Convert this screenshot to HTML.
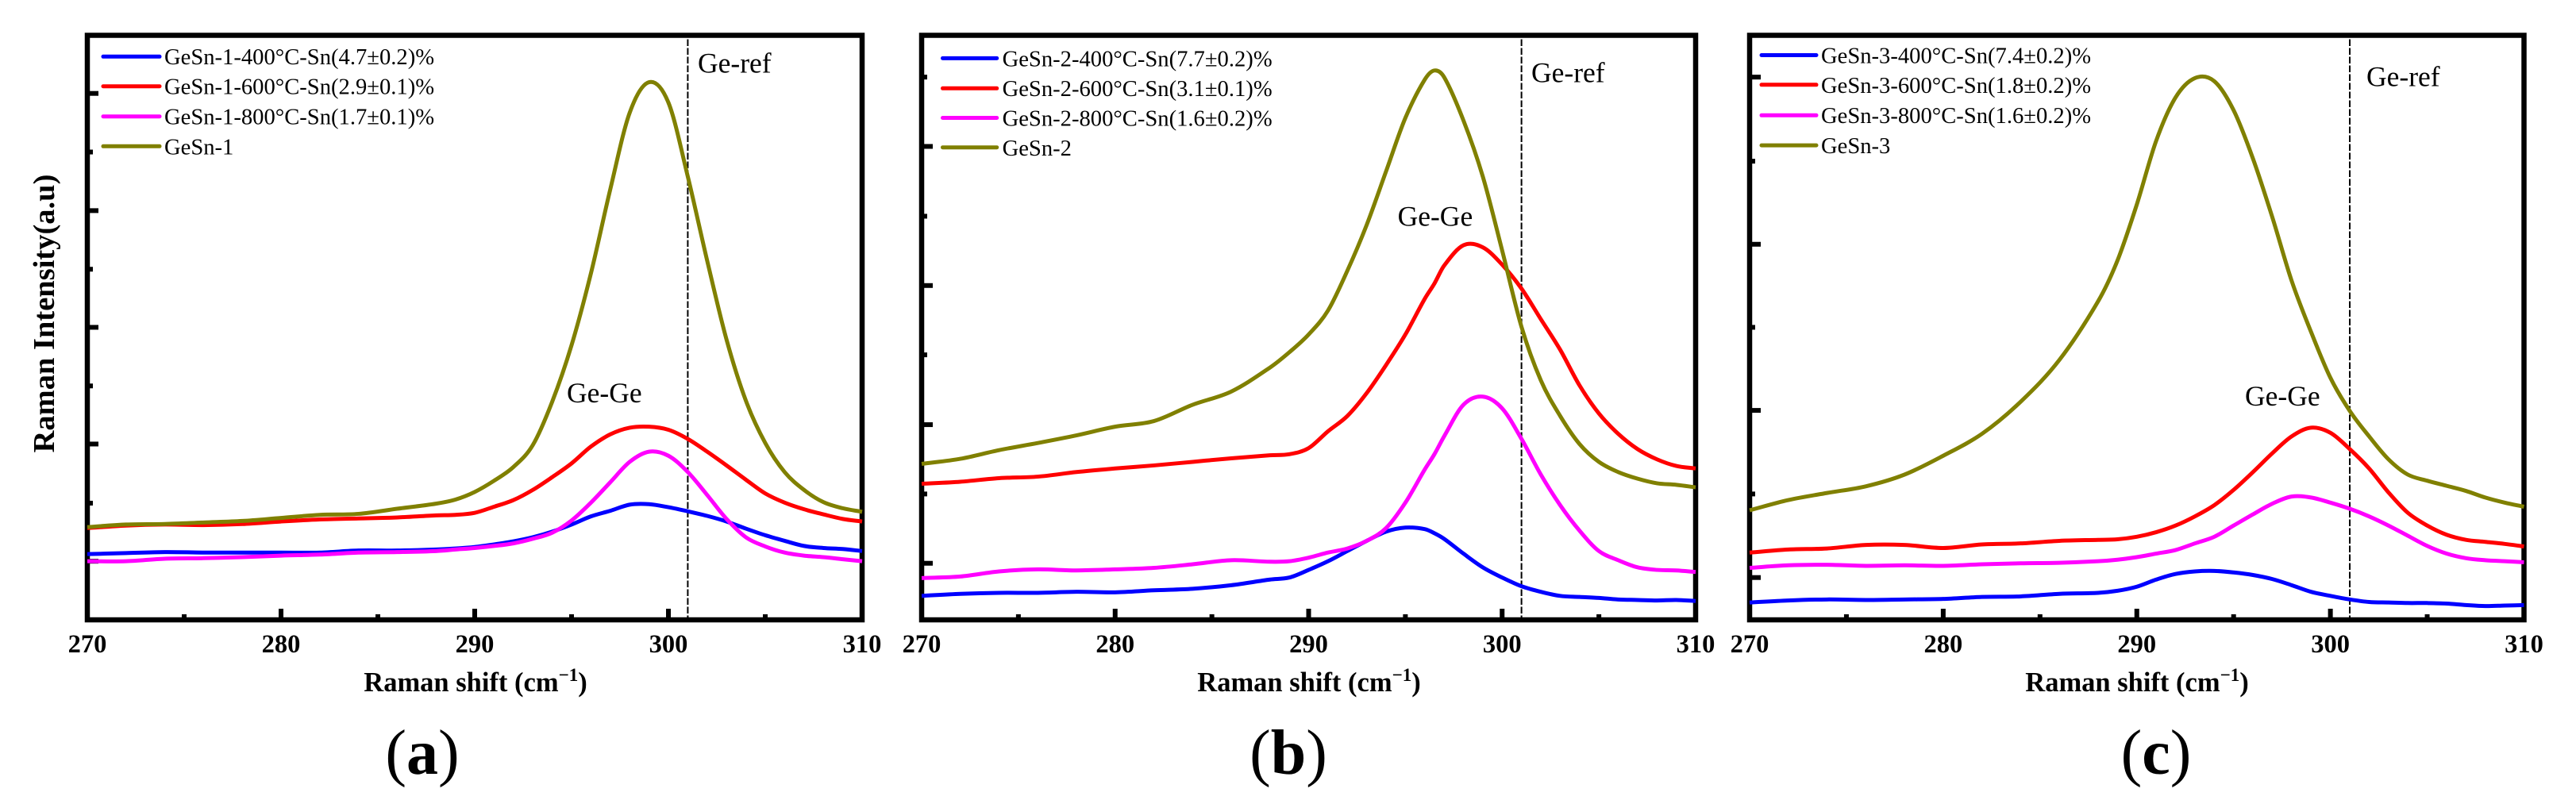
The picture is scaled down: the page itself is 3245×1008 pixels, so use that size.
<!DOCTYPE html>
<html lang="en">
<head>
<meta charset="utf-8">
<title>Raman spectra of GeSn samples</title>
<style>
html,body{margin:0;padding:0;background:#fff;}
svg{display:block;}
text{font-family:"Liberation Serif","Noto Serif CJK SC",serif;fill:#000;}
.lg{font-size:28.6px;}
.an{font-size:35.5px;}
.tk{font-size:32.5px;font-weight:bold;text-anchor:middle;}
.ax{font-size:34.5px;font-weight:bold;text-anchor:middle;}
.pl{font-size:80px;text-anchor:middle;}
</style>
</head>
<body>
<svg id="figure" xmlns="http://www.w3.org/2000/svg" width="3245" height="1008" viewBox="0 0 3245 1008">
  <rect x="0" y="0" width="3245" height="1008" fill="#fff"/>

  <g id="panel-a"></g>
  <g id="panel-b"></g>
  <g id="panel-c"></g>

  <text transform="translate(68,395) rotate(-90)" font-size="38.5" font-weight="bold" text-anchor="middle">Raman Intensity(a.u)</text>

  <g>
    <line x1="130" x2="201" y1="71.3" y2="71.3" stroke="#0000ff" stroke-width="5" stroke-linecap="round"/>
    <line x1="130" x2="201" y1="108.7" y2="108.7" stroke="#ff0000" stroke-width="5" stroke-linecap="round"/>
    <line x1="130" x2="201" y1="146.7" y2="146.7" stroke="#ff00ff" stroke-width="5" stroke-linecap="round"/>
    <line x1="130" x2="201" y1="184.3" y2="184.3" stroke="#808000" stroke-width="5" stroke-linecap="round"/>
    <text class="lg" x="207" y="81">GeSn-1-400°C-Sn(4.7±0.2)%</text>
    <text class="lg" x="207" y="118.7">GeSn-1-600°C-Sn(2.9±0.1)%</text>
    <text class="lg" x="207" y="156.7">GeSn-1-800°C-Sn(1.7±0.1)%</text>
    <text class="lg" x="207" y="194.3">GeSn-1</text>
  </g>
  <g>
    <line x1="1187.5" x2="1255.7" y1="73.4" y2="73.4" stroke="#0000ff" stroke-width="5" stroke-linecap="round"/>
    <line x1="1187.5" x2="1255.7" y1="111.3" y2="111.3" stroke="#ff0000" stroke-width="5" stroke-linecap="round"/>
    <line x1="1187.5" x2="1255.7" y1="148.5" y2="148.5" stroke="#ff00ff" stroke-width="5" stroke-linecap="round"/>
    <line x1="1187.5" x2="1255.7" y1="185.7" y2="185.7" stroke="#808000" stroke-width="5" stroke-linecap="round"/>
    <text class="lg" x="1262.6" y="83.5">GeSn-2-400°C-Sn(7.7±0.2)%</text>
    <text class="lg" x="1262.6" y="121">GeSn-2-600°C-Sn(3.1±0.1)%</text>
    <text class="lg" x="1262.6" y="158.5">GeSn-2-800°C-Sn(1.6±0.2)%</text>
    <text class="lg" x="1262.6" y="196">GeSn-2</text>
  </g>
  <g>
    <line x1="2219" x2="2288" y1="69.5" y2="69.5" stroke="#0000ff" stroke-width="5" stroke-linecap="round"/>
    <line x1="2219" x2="2288" y1="106.8" y2="106.8" stroke="#ff0000" stroke-width="5" stroke-linecap="round"/>
    <line x1="2219" x2="2288" y1="145.3" y2="145.3" stroke="#ff00ff" stroke-width="5" stroke-linecap="round"/>
    <line x1="2219" x2="2288" y1="183.1" y2="183.1" stroke="#808000" stroke-width="5" stroke-linecap="round"/>
    <text class="lg" x="2294" y="79.5">GeSn-3-400°C-Sn(7.4±0.2)%</text>
    <text class="lg" x="2294" y="117">GeSn-3-600°C-Sn(1.8±0.2)%</text>
    <text class="lg" x="2294" y="155">GeSn-3-800°C-Sn(1.6±0.2)%</text>
    <text class="lg" x="2294" y="193">GeSn-3</text>
  </g>

  <text class="an" x="879" y="91.4">Ge-ref</text>
  <text class="an" x="1929" y="103.6">Ge-ref</text>
  <text class="an" x="2981" y="108.3">Ge-ref</text>
  <text class="an" x="714" y="507">Ge-Ge</text>
  <text class="an" x="1760.6" y="284.6">Ge-Ge</text>
  <text class="an" x="2828" y="511">Ge-Ge</text>

  <text class="ax" x="599" y="871">Raman shift (cm<tspan font-size="23" dy="-13">−1</tspan><tspan dy="13">)</tspan></text>
  <text class="ax" x="1649" y="871">Raman shift (cm<tspan font-size="23" dy="-13">−1</tspan><tspan dy="13">)</tspan></text>
  <text class="ax" x="2692" y="871">Raman shift (cm<tspan font-size="23" dy="-13">−1</tspan><tspan dy="13">)</tspan></text>

  <text class="pl" x="532" y="975">(<tspan font-weight="bold">a</tspan>)</text>
  <text class="pl" x="1623" y="975">(<tspan font-weight="bold">b</tspan>)</text>
  <text class="pl" x="2716" y="975">(<tspan font-weight="bold">c</tspan>)</text>
</svg>

<script>
// Shared x-axis values (Raman shift, cm-1)
const xTickValues = [270, 280, 290, 300, 310];
const xTickLabels = ["270", "280", "290", "300", "310"];
const xMinorTickValues = [275, 285, 295, 305];
const refLineShift = 301;

// Panel (a) — sampled shift values and intensities (a.u.)
const shiftA = [270,272,274,276,278,280,282,284,286,288,289,290,291,292,293,294,295,296,297,298,299,300,301,302,303,304,305,306,307,308,309,310];
const a400 = [129,131,133,132,132,132,132,136,136,138,140,143,148,154,162,173,187,203,214,226,227,221,213,204,193,179,166,155,145,141,139,135];
const a600 = [180,185,187,186,188,193,197,199,201,205,206,210,222,235,255,280,307,340,364,377,379,373,355,330,303,275,248,230,217,207,198,193];
const a800 = [115,115,120,121,123,126,128,132,133,135,138,141,145,150,159,171,195,230,270,310,330,322,290,245,198,162,144,132,126,123,119,115];
const aGrown = [182,187,188,191,194,200,206,208,218,228,236,251,273,300,343,428,539,680,845,995,1055,1015,870,705,550,430,347,290,255,231,219,212];
const yTicksA = [115,229,345,459,574,688,803,918,1033];

// Panel (b)
const shiftB = [270,272,274,276,278,280,282,284,286,288,289,290,291,292,293,294,295,296,296.5,297,298,299,300,301,302,303,304,305,306,307,308,309,310];
const b400 = [47,51,53,53,55,54,58,61,68,79,83,98,115,135,155,173,181,178,170,159,130,103,83,66,55,47,45,43,40,39,38,39,37];
const b600 = [267,271,278,281,290,297,303,310,317,323,325,337,370,400,445,500,560,630,660,695,735,731,697,650,590,530,460,405,365,335,315,302,297];
const b800 = [82,85,95,99,97,99,102,109,117,114,115,122,132,140,155,180,230,295,325,360,422,438,415,355,285,225,175,135,117,103,98,97,94];
const bGrown = [306,316,333,347,362,379,390,422,448,495,525,560,607,685,775,880,985,1060,1078,1065,980,870,725,575,470,400,345,310,290,277,268,265,260];
const yTicksB = [111,247,383,520,656,792,929,1065];

// Panel (c)
const shiftC = [270,272,274,276,278,280,282,284,286,288,289,290,291,292,293,294,295,296,297,298,299,300,301,302,303,304,305,306,307,308,309,310];
const c400 = [34,38,40,39,40,41,45,46,51,53,57,65,79,90,95,96,93,88,80,68,55,47,40,35,34,33,33,32,29,27,28,29];
const c600 = [132,138,140,147,147,141,148,150,155,157,158,163,172,185,203,225,255,290,327,360,377,367,335,297,250,210,185,167,157,153,149,144];
const c800 = [102,107,108,106,107,106,109,111,112,115,118,123,130,137,150,163,185,207,228,242,240,230,218,203,185,165,145,130,121,117,115,113];
const cGrown = [215,235,249,262,285,322,365,428,510,625,705,815,940,1025,1063,1057,1000,905,790,665,565,475,410,360,315,285,273,263,253,240,230,222];
const yTicksC = [83,247,411,574,737,900,1065];

// Axis domain
const xDomain = [270, 310];
const yDomain = [0, 1147];

const SVGNS = "http://www.w3.org/2000/svg";
const plotTop = 44.5;
const plotBottom = 781;

const panelConfigs = [
  { key: "a", left: 110, right: 1086, shift: shiftA, yTicks: yTicksA,
    series: [["400", "#0000ff", a400], ["600", "#ff0000", a600], ["800", "#ff00ff", a800], ["as-grown", "#808000", aGrown]] },
  { key: "b", left: 1161, right: 2136, shift: shiftB, yTicks: yTicksB,
    series: [["400", "#0000ff", b400], ["600", "#ff0000", b600], ["800", "#ff00ff", b800], ["as-grown", "#808000", bGrown]] },
  { key: "c", left: 2204, right: 3179.5, shift: shiftC, yTicks: yTicksC,
    series: [["400", "#0000ff", c400], ["600", "#ff0000", c600], ["800", "#ff00ff", c800], ["as-grown", "#808000", cGrown]] }
];

function yScale(v) {
  return plotBottom - (v - yDomain[0]) / (yDomain[1] - yDomain[0]) * (plotBottom - plotTop);
}

function makeXScale(p) {
  return function (v) {
    return p.left + (v - xDomain[0]) / (xDomain[1] - xDomain[0]) * (p.right - p.left);
  };
}

// Cubic Hermite spline with spacing-aware tangents
function smoothPath(pts) {
  const slope = function (i) {
    const a = pts[Math.max(i - 1, 0)];
    const b = pts[Math.min(i + 1, pts.length - 1)];
    return (b[1] - a[1]) / (b[0] - a[0]);
  };
  let d = "M" + pts[0][0].toFixed(2) + " " + pts[0][1].toFixed(2);
  for (let i = 0; i < pts.length - 1; i++) {
    const p1 = pts[i];
    const p2 = pts[i + 1];
    const dx = (p2[0] - p1[0]) / 3;
    const c1x = p1[0] + dx;
    const c1y = p1[1] + slope(i) * dx;
    const c2x = p2[0] - dx;
    const c2y = p2[1] - slope(i + 1) * dx;
    d += "C" + c1x.toFixed(2) + " " + c1y.toFixed(2) + " " + c2x.toFixed(2) + " " + c2y.toFixed(2) + " " + p2[0].toFixed(2) + " " + p2[1].toFixed(2);
  }
  return d;
}

function tickRect(x, y, w, h) {
  const r = document.createElementNS(SVGNS, "rect");
  r.setAttribute("x", x);
  r.setAttribute("y", y);
  r.setAttribute("width", w);
  r.setAttribute("height", h);
  r.setAttribute("fill", "#000");
  return r;
}

panelConfigs.forEach(function (p) {
  const g = document.getElementById("panel-" + p.key);
  const xs = makeXScale(p);

  // Frame
  const frame = document.createElementNS(SVGNS, "rect");
  
  
  frame.setAttribute("x", p.left);
  frame.setAttribute("y", plotTop);
  frame.setAttribute("width", p.right - p.left);
  frame.setAttribute("height", plotBottom - plotTop);
  frame.setAttribute("fill", "none");
  frame.setAttribute("stroke", "#000");
  frame.setAttribute("stroke-width", "6.5");
  g.appendChild(frame);

  // X ticks and labels
  xTickValues.forEach(function (v, i) {
    const t = tickRect(xs(v) - 3, plotBottom - 14, 6, 14);
    
    
    g.appendChild(t);
    const lab = document.createElementNS(SVGNS, "text");
    
    
    lab.setAttribute("class", "tk");
    lab.setAttribute("x", xs(v));
    lab.setAttribute("y", 822);
    lab.textContent = xTickLabels[i];
    g.appendChild(lab);
  });
  xMinorTickValues.forEach(function (v) {
    const t = tickRect(xs(v) - 3, plotBottom - 7, 6, 7);
    
    
    g.appendChild(t);
  });

  // Y ticks: alternating major and minor
  p.yTicks.forEach(function (v, i) {
    const len = i % 2 === 0 ? 14 : 7;
    const t = tickRect(p.left, yScale(v) - 3, len, 6);
    
    
    g.appendChild(t);
  });

  // Reference line
  const ref = document.createElementNS(SVGNS, "line");
  
  
  ref.setAttribute("x1", xs(refLineShift));
  ref.setAttribute("x2", xs(refLineShift));
  ref.setAttribute("y1", plotTop + 5);
  ref.setAttribute("y2", plotBottom - 3);
  ref.setAttribute("stroke", "#000");
  ref.setAttribute("stroke-width", "2");
  ref.setAttribute("stroke-dasharray", "8.5 2.5");
  g.appendChild(ref);

  // Series curves
  p.series.forEach(function (s) {
    const pts = s[2].map(function (v, i) {
      return [xs(p.shift[i]), yScale(v)];
    });
    const path = document.createElementNS(SVGNS, "path");
    
    
    path.setAttribute("d", smoothPath(pts));
    path.setAttribute("fill", "none");
    path.setAttribute("stroke", s[1]);
    path.setAttribute("stroke-width", "5");
    path.setAttribute("stroke-linejoin", "round");
    g.appendChild(path);
  });
});
</script>
</body>
</html>
